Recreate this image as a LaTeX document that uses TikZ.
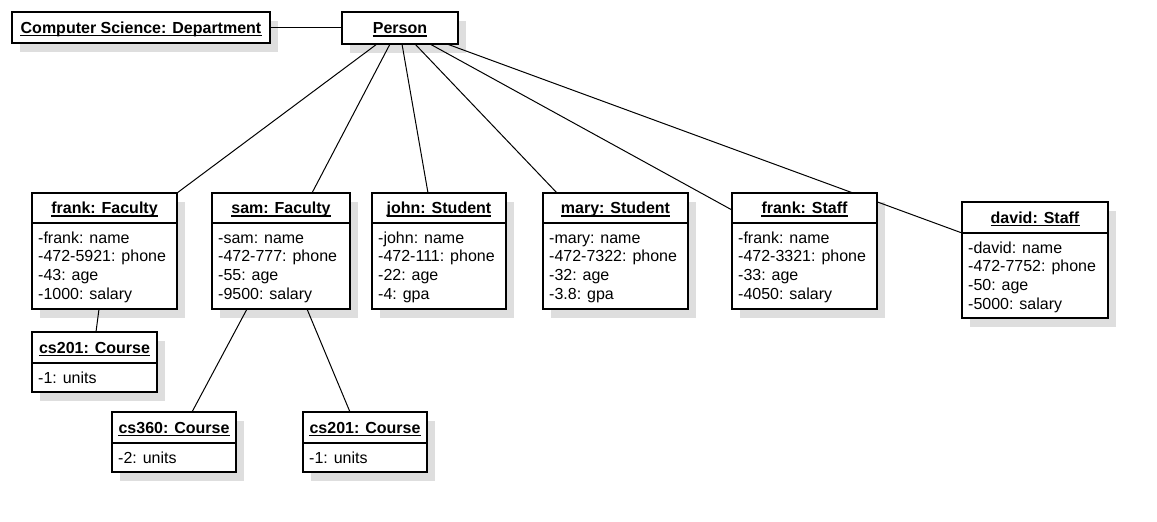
\documentclass[tikz,border=0pt]{standalone}
\usepackage{fontspec}
\setmainfont{Liberation Sans}
\usetikzlibrary{calc}
\pgfdeclarelayer{shadowlayer}
\pgfdeclarelayer{edgelayer}
\pgfsetlayers{shadowlayer,edgelayer,main}
\tikzset{
 boxframe/.style={draw=black, line width=1.3pt, fill=white, inner sep=0pt, outer sep=0pt, anchor=north west},
 shadowfill/.style={fill=black!13},
 titletext/.style={font=\fontsize{16}{19}\selectfont\bfseries, inner sep=0pt, anchor=base},
 attrtext/.style={font=\fontsize{16}{19}\selectfont, inner sep=0pt, anchor=base west},
 ulline/.style={line width=1.2pt},
 divline/.style={line width=1.3pt},
 link/.style={line width=1pt, draw=black},
}
% name, left, top, right, divider, bottom, title, attributes
\newcommand\objbox[8]{%
 \begin{pgfonlayer}{shadowlayer}
 \fill[shadowfill] (#2+8,-#3-9) rectangle (#4+8,-#6-9);
 \end{pgfonlayer}
 \node[boxframe, minimum width={#4-#2}, minimum height={#6-#3}] (#1) at (#2,-#3) {};
 \draw[divline] (#2,-#5) -- (#4,-#5);
 \node[titletext] (#1t) at ({(#2+#4)/2},{-(#3+#5)/2-5.75}) {#7};
 \draw[ulline] ($(#1t.base west)+(0,-2.2)$) -- ($(#1t.base east)+(0,-2.2)$);
 \foreach \atxt [count=\i] in {#8} {
   \node[attrtext] (#1a\i) at ({#2+6},{-(#5+20+(\i-1)*18.7)}) {\atxt};
 }
}
% name, left, top, right, bottom, title
\newcommand\namebox[6]{%
 \begin{pgfonlayer}{shadowlayer}
 \fill[shadowfill] (#2+8,-#3-9) rectangle (#4+8,-#5-9);
 \end{pgfonlayer}
 \node[boxframe, minimum width={#4-#2}, minimum height={#5-#3}] (#1) at (#2,-#3) {};
 \node[titletext] (#1t) at ({(#2+#4)/2},{-(#3+#5)/2-5.75}) {#6};
 \draw[ulline] ($(#1t.base west)+(0,-2.2)$) -- ($(#1t.base east)+(0,-2.2)$);
}
\begin{document}
\begin{tikzpicture}[x=1pt,y=1pt]
\begin{pgfonlayer}{shadowlayer}
\fill[white] (0,0) rectangle (1157,-522);
\end{pgfonlayer}
\useasboundingbox (0,0) rectangle (1157,-522);

\namebox{cs}{12}{12}{270}{43}{Computer Science: Department}
\namebox{person}{342}{12}{458}{44}{Person}

\objbox{ff}{32}{193}{177}{223}{309}{frank: Faculty}{-frank: name,-472-5921: phone,-43: age,-1000: salary}
\objbox{sf}{212}{193}{350}{223}{309}{sam: Faculty}{-sam: name,-472-777: phone,-55: age,-9500: salary}
\objbox{js}{372}{193}{506}{223}{309}{john: Student}{-john: name,-472-111: phone,-22: age,-4: gpa}
\objbox{ms}{543}{193}{688}{223}{309}{mary: Student}{-mary: name,-472-7322: phone,-32: age,-3.8: gpa}
\objbox{fs}{732}{193}{877}{223}{309}{frank: Staff}{-frank: name,-472-3321: phone,-33: age,-4050: salary}
\objbox{ds}{962}{202}{1108}{233}{318}{david: Staff}{-david: name,-472-7752: phone,-50: age,-5000: salary}
\objbox{ca}{32}{332}{157}{363}{392}{cs201: Course}{-1: units}
\objbox{cb}{112}{412}{236}{443}{472}{cs360: Course}{-2: units}
\objbox{cc}{303}{412}{427}{443}{472}{cs201: Course}{-1: units}

\begin{pgfonlayer}{edgelayer}
\draw[link] (cs.east) -- (cs.east -| person.west);
\draw[link] ($(person.south west)+(35,0)$) -- (ff.north east);
\draw[link] ($(person.south west)+(48,0)$) -- ($(sf.north west)+(100,0)$);
\draw[link] ($(person.south west)+(60,0)$) -- ($(js.north west)+(56,0)$);
\draw[link] ($(person.south west)+(73,0)$) -- ($(ms.north west)+(14,0)$);
\draw[link] ($(person.south west)+(88,0)$) -- ($(fs.north west)+(0,-17)$);
\draw[link] ($(person.south west)+(105,0)$) -- ($(ds.north west)+(0,-31)$);
\draw[link] ($(ff.south west)+(67,0)$) -- ($(ca.north west)+(64,0)$);
\draw[link] ($(sf.south west)+(35,0)$) -- ($(cb.north west)+(80,0)$);
\draw[link] ($(sf.south west)+(95,0)$) -- ($(cc.north west)+(47,0)$);
\end{pgfonlayer}
\end{tikzpicture}
\end{document}
